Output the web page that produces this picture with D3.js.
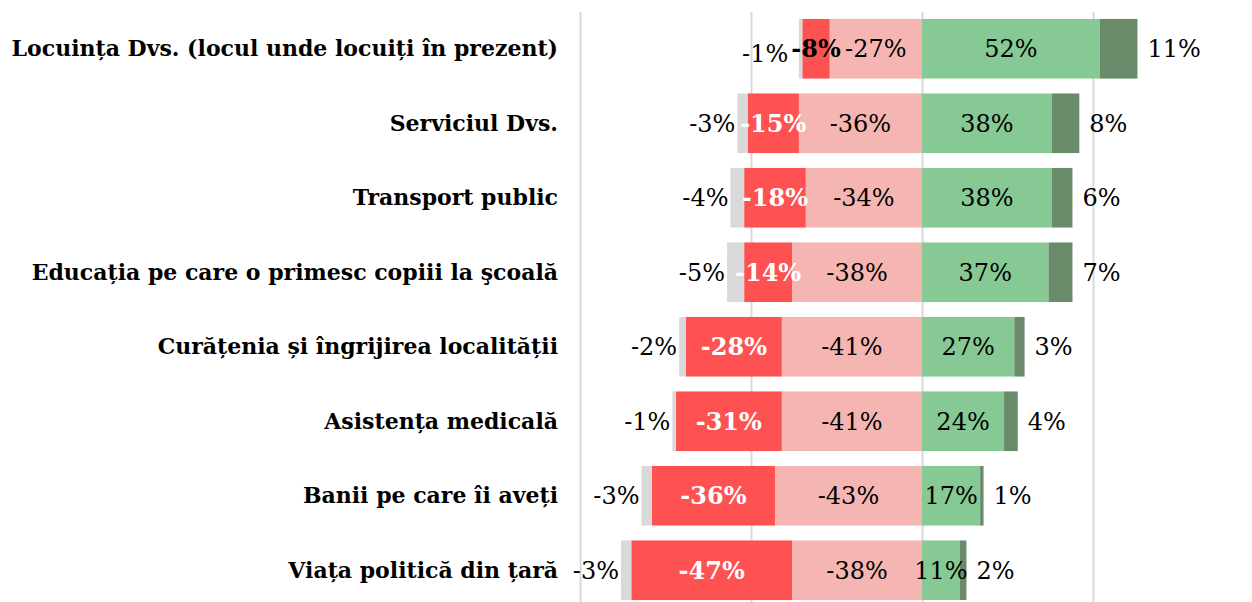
<!DOCTYPE html>
<html>
<head>
<meta charset="utf-8">
<script src="https://cdn.jsdelivr.net/npm/d3@7"></script>
<style>
  body { margin: 0; background: #fff; }
  text { font-family: "DejaVu Serif", "Liberation Serif", serif; }
</style>
</head>
<body>
<div id="chart"></div>
<script>
// Categories (top to bottom)
const categories = [
    "Locuința Dvs. (locul unde locuiți în prezent)",
    "Serviciul Dvs.",
    "Transport public",
    "Educația pe care o primesc copiii la şcoală",
    "Curățenia și îngrijirea localității",
    "Asistența medicală",
    "Banii pe care îi aveți",
    "Viața politică din țară"
];

// Negative side (from outer to inner)
const dontKnow      = [-1, -3, -4, -5, -2, -1, -3, -3];
const veryBad       = [-8, -15, -18, -14, -28, -31, -36, -47];
const ratherBad     = [-27, -36, -34, -38, -41, -41, -43, -38];
// Positive side (from inner to outer)
const ratherGood    = [52, 38, 38, 37, 27, 24, 17, 11];
const veryGood      = [11, 8, 6, 7, 3, 4, 1, 2];

const gridTicks = [-100, -50, 0, 50];

const width = 1252, height = 602;

const svg = d3.select("#chart")
    .append("svg")
    .attr("width", width)
    .attr("height", height);

// Scales
const x = d3.scaleLinear()
    .domain([-100, 0])
    .range([580, 922]);

const y = d3.scaleBand()
    .domain(categories)
    .range([11.5, 607.5])
    .paddingInner(0.2)
    .paddingOuter(0.1);

// Gridlines
svg.append("g")
    .attr("class", "grid")
    .attr("transform", "translate(0,12)")
    .call(d3.axisBottom(x).tickValues(gridTicks).tickSize(height).tickFormat(""))
    .call(g => g.select(".domain").remove())
    .selectAll("line")
    .style("stroke", "#d9d9d9")
    .style("stroke-width", 2);

// Build stacked segments
const segments = [];
categories.forEach((cat, i) => {
    // negative side stacked outward from zero
    let left = 0;
    [
        { key: "ratherBad", v: ratherBad[i], fill: "#f5b6b3", text: "#000", bold: false, pos: "center" },
        { key: "veryBad", v: veryBad[i], fill: "#fe5151", text: i === 0 ? "#000" : "#fff", bold: true, pos: "center" },
        { key: "dontKnow", v: dontKnow[i], fill: "#d9d9d9", text: "#000", bold: false, pos: "outside" }
    ].forEach(s => {
        segments.push({ cat, ...s, x0: left + s.v, x1: left });
        left += s.v;
    });
    let right = 0;
    [
        { key: "ratherGood", v: ratherGood[i], fill: "#86c994", text: "#000", bold: false, pos: "center" },
        { key: "veryGood", v: veryGood[i], fill: "#6a8b69", text: "#000", bold: false, pos: "outside" }
    ].forEach(s => {
        segments.push({ cat, ...s, x0: right, x1: right + s.v });
        right += s.v;
    });
});

svg.append("g")
    .selectAll("rect")
    .data(segments)
    .enter()
    .append("rect")
    .attr("x", d => x(d.x0))
    .attr("y", d => y(d.cat))
    .attr("width", d => x(d.x1) - x(d.x0))
    .attr("height", y.bandwidth())
    .attr("fill", d => d.fill);

// Data labels
const labels = svg.append("g")
    .selectAll("text")
    .data(segments)
    .enter()
    .append("text")
    .attr("x", d => {
        if (d.pos === "center") return (x(d.x0) + x(d.x1)) / 2;
        return d.v < 0 ? x(d.x0) - 2 : x(d.x1) + 10;
    })
    .attr("y", d => y(d.cat) + y.bandwidth() / 2)
    .attr("dy", "0.35em")
    .attr("text-anchor", d => d.pos === "center" ? "middle" : (d.v < 0 ? "end" : "start"))
    .style("font-size", "24px")
    .style("font-weight", d => d.bold ? "bold" : "normal")
    .style("fill", d => d.text)
    .text(d => `${d.v}%`);

// Push the outer negative label away when it runs into the red label
labels.filter(d => d.key === "dontKnow").each(function (d) {
    const red = labels.filter(r => r.key === "veryBad" && r.cat === d.cat).node();
    const redStart = red.getBBox().x;
    const end = +d3.select(this).attr("x");
    if (end > redStart - 3) {
        d3.select(this)
            .attr("x", redStart - 3)
            .attr("y", y(d.cat) + y.bandwidth() / 2 + 5);
    }
});

// Category labels
svg.append("g")
    .selectAll("text")
    .data(categories)
    .enter()
    .append("text")
    .attr("x", 558)
    .attr("y", d => y(d) + y.bandwidth() / 2)
    .attr("dy", "0.35em")
    .attr("text-anchor", "end")
    .style("font-size", "22px")
    .style("font-weight", "bold")
    .style("fill", "#000")
    .text(d => d);
</script>
</body>
</html>
